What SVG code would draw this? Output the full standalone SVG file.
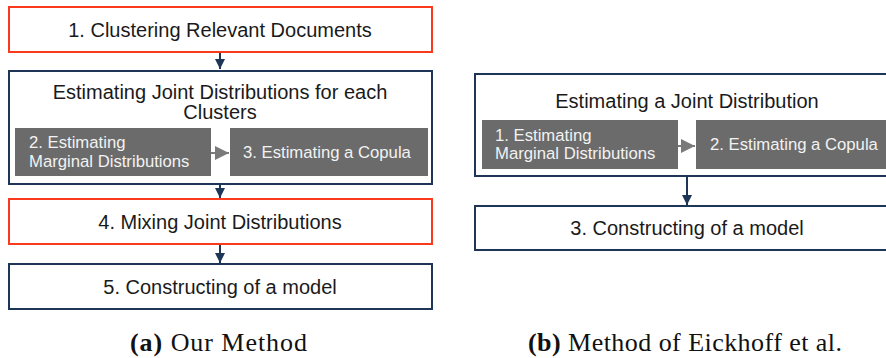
<svg xmlns="http://www.w3.org/2000/svg" width="886" height="358" viewBox="0 0 886 358">
<defs>
<marker id="ah" viewBox="0 0 10 10" refX="10" refY="5" markerWidth="6" markerHeight="5" markerUnits="strokeWidth" orient="auto"><path d="M0,0 L10,5 L0,10 z" fill="#1d3557"/></marker>
<marker id="ahg" viewBox="0 0 10 10" refX="10" refY="5" markerWidth="7" markerHeight="7" markerUnits="strokeWidth" orient="auto"><path d="M0,0 L10,5 L0,10 z" fill="#7a7a7a"/></marker>
<style>
.red{fill:#fff;stroke:#fa3a1c;stroke-width:2}
.navy{fill:#fff;stroke:#1d3557;stroke-width:2}
.gray{fill:#6b6b6b}
.t{font-family:"Liberation Sans","Noto Sans",sans-serif;font-size:20px;fill:#1a1a1a;text-anchor:middle}
.w{font-family:"Liberation Sans","Noto Sans",sans-serif;font-size:16.7px;fill:#f2f2f2}
.cap{font-family:"Liberation Serif",serif;font-size:26px;fill:#111}
.conn{stroke:#1d3557;stroke-width:2;fill:none}
.connG{stroke:#7a7a7a;stroke-width:2;fill:none}
</style>
</defs>
<g id="a-step1"><rect class="red" x="9" y="7" width="423" height="45"/><text class="t" x="220" y="37">1. Clustering Relevant Documents</text></g>
<g id="a-joint"><rect class="navy" x="9" y="71" width="423" height="113"/><text class="t" x="220" y="99">Estimating Joint Distributions for each</text><text class="t" x="220" y="119">Clusters</text></g>
<g id="a-step2"><rect class="gray" x="15" y="128" width="196" height="48"/><text class="w" x="29" y="148">2. Estimating</text><text class="w" x="29" y="167">Marginal Distributions</text></g>
<g id="a-step3"><rect class="gray" x="230" y="128" width="198" height="48"/><text class="w" x="243" y="158">3. Estimating a Copula</text></g>
<g id="a-step4"><rect class="red" x="9" y="199" width="423" height="45"/><text class="t" x="220" y="229">4. Mixing Joint Distributions</text></g>
<g id="a-step5"><rect class="navy" x="9" y="264" width="423" height="45"/><text class="t" x="220" y="294">5. Constructing of a model</text></g>
<g id="b-joint"><rect class="navy" x="475" y="74" width="420" height="102"/><text class="t" x="687" y="108">Estimating a Joint Distribution</text></g>
<g id="b-step1"><rect class="gray" x="482" y="120" width="196" height="49"/><text class="w" x="495" y="141">1. Estimating</text><text class="w" x="495" y="159">Marginal Distributions</text></g>
<g id="b-step2"><rect class="gray" x="696" y="120" width="200" height="49"/><text class="w" x="710" y="150">2. Estimating a Copula</text></g>
<g id="b-step3"><rect class="navy" x="475" y="206" width="420" height="44"/><text class="t" x="687" y="235">3. Constructing of a model</text></g>
<g id="connectors">
<line class="conn" x1="220" y1="53" x2="220" y2="69" marker-end="url(#ah)"/>
<line class="conn" x1="220" y1="185" x2="220" y2="198" marker-end="url(#ah)"/>
<line class="conn" x1="220" y1="245" x2="220" y2="263" marker-end="url(#ah)"/>
<line class="connG" x1="211" y1="153" x2="229" y2="153" marker-end="url(#ahg)"/>
<line class="connG" x1="678" y1="146" x2="695" y2="146" marker-end="url(#ahg)"/>
<line class="conn" x1="687" y1="177" x2="687" y2="205" marker-end="url(#ah)"/>
</g>
<text class="cap" x="130" y="351" textLength="177" lengthAdjust="spacing"><tspan font-weight="bold">(a)</tspan> Our Method</text>
<text class="cap" x="528" y="351" textLength="314" lengthAdjust="spacing"><tspan font-weight="bold">(b)</tspan> Method of Eickhoff et al.</text>
</svg>
